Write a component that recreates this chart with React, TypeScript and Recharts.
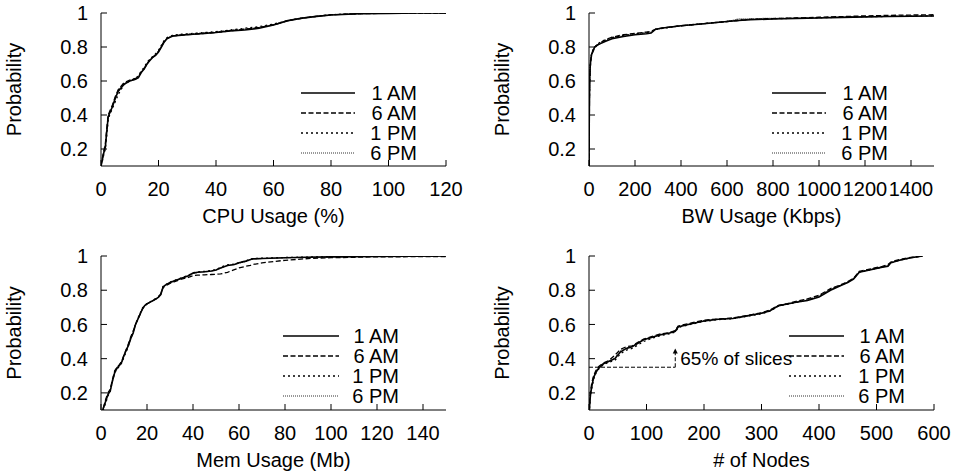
import { LineChart, Line, XAxis, YAxis, Legend, ReferenceLine } from 'recharts';

const FONT = '"Liberation Sans", Arial, Helvetica, sans-serif';
const FS = 20;

const SERIES_NAMES = ['1 AM', '6 AM', '1 PM', '6 PM'];
const Y_TICKS = [0.2, 0.4, 0.6, 0.8, 1];

// CPU usage (%)
const cpuX = [0, 0.5, 1, 1.5, 2, 2.5, 3, 4, 5, 6, 7, 8, 10, 12, 13, 14, 15, 16, 17, 18, 19, 20, 21, 22, 23, 25, 28, 32, 36, 40, 45, 50, 55, 60, 65, 70, 75, 80, 90, 100, 110, 120];
const cpu1am = [0.10, 0.14, 0.18, 0.21, 0.30, 0.39, 0.41, 0.45, 0.50, 0.54, 0.56, 0.58, 0.60, 0.61, 0.62, 0.65, 0.67, 0.70, 0.72, 0.74, 0.75, 0.77, 0.80, 0.83, 0.85, 0.865, 0.87, 0.875, 0.88, 0.885, 0.895, 0.90, 0.91, 0.93, 0.955, 0.97, 0.98, 0.988, 0.996, 0.998, 1, 1];
const cpu6am = [0.10, 0.15, 0.19, 0.23, 0.32, 0.40, 0.42, 0.46, 0.51, 0.55, 0.57, 0.59, 0.605, 0.615, 0.625, 0.655, 0.675, 0.70, 0.725, 0.74, 0.755, 0.775, 0.805, 0.835, 0.85, 0.865, 0.87, 0.875, 0.88, 0.885, 0.895, 0.905, 0.915, 0.93, 0.955, 0.97, 0.98, 0.99, 0.996, 0.998, 1, 1];
const cpu1pm = [0.10, 0.13, 0.17, 0.20, 0.28, 0.37, 0.40, 0.44, 0.48, 0.52, 0.55, 0.58, 0.60, 0.615, 0.63, 0.66, 0.68, 0.71, 0.73, 0.745, 0.76, 0.78, 0.81, 0.84, 0.855, 0.87, 0.875, 0.88, 0.885, 0.89, 0.90, 0.91, 0.92, 0.935, 0.955, 0.97, 0.98, 0.99, 0.997, 0.999, 1, 1];
const cpu6pm = [0.10, 0.14, 0.18, 0.22, 0.31, 0.39, 0.41, 0.45, 0.50, 0.54, 0.565, 0.585, 0.60, 0.61, 0.62, 0.65, 0.67, 0.70, 0.72, 0.74, 0.755, 0.775, 0.80, 0.83, 0.85, 0.865, 0.872, 0.878, 0.883, 0.888, 0.898, 0.905, 0.915, 0.932, 0.955, 0.97, 0.982, 0.99, 0.996, 0.999, 1, 1];

// BW usage (Kbps)
const bwX = [0, 1, 2, 3, 5, 8, 12, 18, 25, 35, 50, 75, 100, 150, 200, 250, 270, 290, 320, 400, 500, 600, 650, 700, 800, 900, 1000, 1100, 1200, 1300, 1400, 1500];
const bw1am = [0.10, 0.35, 0.50, 0.60, 0.68, 0.73, 0.76, 0.78, 0.80, 0.81, 0.82, 0.835, 0.848, 0.862, 0.872, 0.878, 0.882, 0.905, 0.912, 0.925, 0.937, 0.95, 0.956, 0.96, 0.965, 0.968, 0.971, 0.974, 0.977, 0.979, 0.981, 0.982];
const bw6am = [0.10, 0.33, 0.48, 0.59, 0.67, 0.72, 0.755, 0.775, 0.795, 0.81, 0.825, 0.845, 0.858, 0.872, 0.88, 0.888, 0.892, 0.905, 0.912, 0.925, 0.938, 0.95, 0.956, 0.962, 0.967, 0.971, 0.975, 0.979, 0.983, 0.986, 0.988, 0.99];
const bw1pm = [0.10, 0.36, 0.52, 0.62, 0.69, 0.74, 0.765, 0.785, 0.80, 0.815, 0.83, 0.845, 0.855, 0.868, 0.878, 0.885, 0.89, 0.903, 0.91, 0.925, 0.938, 0.95, 0.958, 0.962, 0.966, 0.969, 0.972, 0.975, 0.978, 0.98, 0.982, 0.984];
const bw6pm = [0.10, 0.34, 0.50, 0.61, 0.68, 0.73, 0.76, 0.78, 0.80, 0.812, 0.825, 0.84, 0.852, 0.866, 0.876, 0.883, 0.887, 0.904, 0.911, 0.924, 0.937, 0.95, 0.965, 0.967, 0.969, 0.971, 0.973, 0.976, 0.978, 0.98, 0.982, 0.984];

// Mem usage (Mb)
const memX = [0, 1, 2, 3, 4, 5, 6, 7, 8, 9, 10, 11, 12, 13, 14, 15, 16, 17, 18, 19, 20, 22, 24, 25, 26, 27, 28, 30, 32, 35, 38, 40, 42, 45, 48, 50, 52, 55, 58, 60, 63, 65, 66, 70, 80, 90, 100, 120, 150];
const mem1am = [0.07, 0.11, 0.15, 0.19, 0.21, 0.27, 0.32, 0.345, 0.36, 0.38, 0.42, 0.45, 0.48, 0.52, 0.55, 0.60, 0.63, 0.66, 0.69, 0.71, 0.72, 0.735, 0.75, 0.76, 0.775, 0.82, 0.83, 0.845, 0.855, 0.87, 0.885, 0.90, 0.905, 0.908, 0.912, 0.918, 0.93, 0.945, 0.95, 0.96, 0.97, 0.98, 0.983, 0.985, 0.99, 0.993, 0.995, 0.998, 1.0];
const mem6am = [0.07, 0.11, 0.16, 0.20, 0.22, 0.28, 0.33, 0.35, 0.365, 0.385, 0.42, 0.455, 0.49, 0.53, 0.56, 0.60, 0.63, 0.66, 0.69, 0.71, 0.72, 0.735, 0.75, 0.76, 0.78, 0.815, 0.825, 0.84, 0.85, 0.865, 0.875, 0.885, 0.888, 0.89, 0.892, 0.893, 0.895, 0.905, 0.92, 0.93, 0.94, 0.945, 0.95, 0.96, 0.975, 0.985, 0.99, 0.995, 0.997];
const mem1pm = [0.07, 0.10, 0.14, 0.18, 0.21, 0.27, 0.32, 0.34, 0.355, 0.375, 0.41, 0.44, 0.48, 0.52, 0.56, 0.60, 0.635, 0.665, 0.695, 0.712, 0.722, 0.737, 0.752, 0.762, 0.78, 0.822, 0.832, 0.848, 0.858, 0.872, 0.888, 0.902, 0.907, 0.91, 0.915, 0.92, 0.935, 0.948, 0.952, 0.962, 0.972, 0.982, 0.985, 0.987, 0.991, 0.994, 0.996, 0.999, 1.0];
const mem6pm = [0.07, 0.11, 0.15, 0.19, 0.215, 0.275, 0.325, 0.35, 0.365, 0.38, 0.415, 0.45, 0.485, 0.525, 0.555, 0.60, 0.63, 0.66, 0.69, 0.71, 0.72, 0.735, 0.75, 0.76, 0.775, 0.818, 0.83, 0.845, 0.855, 0.87, 0.884, 0.898, 0.904, 0.907, 0.911, 0.917, 0.93, 0.944, 0.95, 0.958, 0.968, 0.979, 0.982, 0.985, 0.99, 0.993, 0.995, 0.998, 1.0];

// # of nodes
const nodesX = [0, 1, 2, 3, 5, 8, 12, 17, 25, 35, 45, 55, 65, 75, 85, 95, 110, 125, 140, 150, 155, 160, 180, 200, 225, 250, 275, 300, 315, 330, 345, 360, 380, 400, 420, 440, 450, 460, 465, 470, 490, 510, 520, 525, 540, 560, 580];
const nodes1am = [0.05, 0.12, 0.17, 0.20, 0.24, 0.29, 0.32, 0.345, 0.37, 0.385, 0.40, 0.44, 0.46, 0.47, 0.49, 0.51, 0.525, 0.54, 0.55, 0.56, 0.585, 0.59, 0.605, 0.62, 0.63, 0.635, 0.65, 0.665, 0.68, 0.71, 0.72, 0.73, 0.74, 0.76, 0.80, 0.83, 0.845, 0.865, 0.885, 0.905, 0.92, 0.935, 0.94, 0.96, 0.975, 0.99, 1.0];
const nodes6am = [0.05, 0.14, 0.19, 0.22, 0.26, 0.30, 0.33, 0.355, 0.375, 0.39, 0.42, 0.455, 0.47, 0.475, 0.495, 0.515, 0.53, 0.545, 0.552, 0.565, 0.59, 0.595, 0.61, 0.625, 0.632, 0.638, 0.652, 0.668, 0.685, 0.712, 0.722, 0.735, 0.75, 0.77, 0.81, 0.835, 0.85, 0.87, 0.89, 0.91, 0.925, 0.94, 0.95, 0.965, 0.98, 0.992, 1.0];
const nodes1pm = [0.05, 0.11, 0.16, 0.19, 0.23, 0.28, 0.315, 0.34, 0.365, 0.38, 0.39, 0.43, 0.45, 0.46, 0.48, 0.50, 0.52, 0.535, 0.545, 0.555, 0.58, 0.587, 0.603, 0.618, 0.628, 0.634, 0.648, 0.662, 0.678, 0.708, 0.718, 0.728, 0.742, 0.765, 0.805, 0.832, 0.848, 0.868, 0.888, 0.905, 0.92, 0.935, 0.945, 0.96, 0.975, 0.99, 1.0];
const nodes6pm = [0.05, 0.13, 0.18, 0.21, 0.25, 0.29, 0.32, 0.35, 0.37, 0.385, 0.405, 0.445, 0.462, 0.472, 0.492, 0.512, 0.527, 0.542, 0.55, 0.562, 0.587, 0.592, 0.607, 0.622, 0.631, 0.636, 0.65, 0.666, 0.682, 0.71, 0.72, 0.732, 0.745, 0.765, 0.805, 0.832, 0.847, 0.867, 0.887, 0.907, 0.922, 0.937, 0.945, 0.962, 0.977, 0.99, 1.0];

// annotation on the nodes plot
const SLICE_X = 150;
const SLICE_Y = 0.35;
const SLICE_ARROW_TOP = 0.46;
const SLICE_TEXT = '65% of slices';

const LINE_STYLES = [
  { stroke: '#000', width: 1.6, dash: undefined },
  { stroke: '#000', width: 1.3, dash: '5 2.5' },
  { stroke: '#000', width: 1.3, dash: '2 3' },
  { stroke: '#333', width: 1.1, dash: '1 1' },
];

const toRows = (xs: number[], ys: number[][]) =>
  xs.map((x, i) => ({ x, s0: ys[0][i], s1: ys[1][i], s2: ys[2][i], s3: ys[3][i] }));

const tickStyle = { fill: '#000', fontSize: FS, fontFamily: FONT };

function LegendBox({ lineEnd }: { lineEnd: number }) {
  return (
    <svg width={120} height={84} style={{ display: 'block' }}>
      {SERIES_NAMES.map((name, i) => {
        const st = LINE_STYLES[i];
        const y = 10 + i * 20;
        return (
          <g key={name}>
            <line x1={1} x2={lineEnd} y1={y} y2={y} stroke={st.stroke} strokeWidth={st.width} strokeDasharray={st.dash} />
            <text x={117} y={y} dy="0.36em" textAnchor="end" fontSize={FS} fontFamily={FONT} fill="#000">
              {name}
            </text>
          </g>
        );
      })}
    </svg>
  );
}

function SliceArrow(props: any) {
  const { x1, y1, x2, y2 } = props;
  return (
    <g>
      <line x1={x1} y1={y1} x2={x2} y2={y2 + 3} stroke="#000" strokeWidth={1} strokeDasharray="4 2" />
      <path d={`M${x2 - 2.5},${y2 + 5} L${x2},${y2} L${x2 + 2.5},${y2 + 5} Z`} fill="#000" />
      <text x={x1 + 5} y={(y1 + y2) / 2} dy="0.36em" fontSize={FS - 1} fontFamily={FONT} fill="#000">
        {SLICE_TEXT}
      </text>
    </g>
  );
}

interface PanelProps {
  left: number;
  top: number;
  margin: { top: number; right: number; bottom: number; left: number };
  xMax: number;
  xTicks: number[];
  xTitle: string;
  rows: any[];
  legendPos: { left: number; top: number; lineEnd: number };
  children?: any;
}

function Panel({ left, top, margin, xMax, xTicks, xTitle, rows, legendPos, children }: PanelProps) {
  return (
    <div style={{ position: 'absolute', left, top }}>
      <LineChart width={480} height={237} data={rows} margin={margin}>
        <XAxis
          xAxisId="b"
          type="number"
          dataKey="x"
          domain={[0, xMax]}
          ticks={xTicks}
          interval={0}
          allowDataOverflow
          height={60}
          stroke="#000"
          tickSize={-6}
          tickMargin={22}
          tick={tickStyle}
          label={{ value: xTitle, position: 'insideBottom', offset: 3, fill: '#000', fontSize: FS, fontFamily: FONT }}
        />
        <XAxis
          xAxisId="t"
          orientation="top"
          type="number"
          dataKey="x"
          domain={[0, xMax]}
          ticks={xTicks}
          interval={0}
          allowDataOverflow
          height={0}
          stroke="#000"
          tickSize={-6}
          tick={false}
        />
        <YAxis
          yAxisId="l"
          type="number"
          domain={[0.1, 1]}
          ticks={Y_TICKS}
          interval={0}
          allowDataOverflow
          width={85}
          stroke="#000"
          tickSize={-6}
          tickMargin={19}
          tick={tickStyle}
          label={{
            value: 'Probability',
            angle: -90,
            position: 'insideLeft',
            offset: -2,
            fill: '#000',
            fontSize: FS,
            fontFamily: FONT,
            style: { textAnchor: 'middle' },
          }}
        />
        <YAxis
          yAxisId="r"
          orientation="right"
          type="number"
          domain={[0.1, 1]}
          ticks={Y_TICKS}
          interval={0}
          allowDataOverflow
          width={0}
          stroke="#000"
          tickSize={-6}
          tick={false}
        />
        {[3, 2, 1, 0].map((i) => (
          <Line
            key={i}
            xAxisId="b"
            yAxisId="l"
            type="linear"
            dataKey={`s${i}`}
            name={SERIES_NAMES[i]}
            stroke={LINE_STYLES[i].stroke}
            strokeWidth={LINE_STYLES[i].width}
            strokeDasharray={LINE_STYLES[i].dash}
            dot={false}
            activeDot={false}
            isAnimationActive={false}
          />
        ))}
        <Legend
          layout="vertical"
          align="center"
          verticalAlign="middle"
          wrapperStyle={{ left: legendPos.left, top: legendPos.top, width: 120, height: 84 }}
          content={() => <LegendBox lineEnd={legendPos.lineEnd} />}
        />
        {children}
      </LineChart>
    </div>
  );
}

export default function App() {
  return (
    <div style={{ position: 'absolute', left: 0, top: 0, width: 959, height: 474, background: '#fff' }}>
      <Panel
        left={0}
        top={0}
        margin={{ top: 13, right: 34, bottom: 11, left: 16 }}
        xMax={120}
        xTicks={[0, 20, 40, 60, 80, 100, 120]}
        xTitle="CPU Usage (%)"
        rows={toRows(cpuX, [cpu1am, cpu6am, cpu1pm, cpu6pm])}
        legendPos={{ left: 300, top: 83, lineEnd: 55 }}
      />
      <Panel
        left={479}
        top={0}
        margin={{ top: 13, right: 25, bottom: 11, left: 25 }}
        xMax={1500}
        xTicks={[0, 200, 400, 600, 800, 1000, 1200, 1400]}
        xTitle="BW Usage (Kbps)"
        rows={toRows(bwX, [bw1am, bw6am, bw1pm, bw6pm])}
        legendPos={{ left: 292, top: 83, lineEnd: 55 }}
      />
      <Panel
        left={0}
        top={237}
        margin={{ top: 19, right: 34, bottom: 4, left: 16 }}
        xMax={150}
        xTicks={[0, 20, 40, 60, 80, 100, 120, 140]}
        xTitle="Mem Usage (Mb)"
        rows={toRows(memX, [mem1am, mem6am, mem1pm, mem6pm])}
        legendPos={{ left: 282, top: 89, lineEnd: 57 }}
      />
      <Panel
        left={479}
        top={237}
        margin={{ top: 19, right: 25, bottom: 4, left: 25 }}
        xMax={600}
        xTicks={[0, 100, 200, 300, 400, 500, 600]}
        xTitle="# of Nodes"
        rows={toRows(nodesX, [nodes1am, nodes6am, nodes1pm, nodes6pm])}
        legendPos={{ left: 309, top: 89, lineEnd: 56 }}
      >
        <ReferenceLine
          xAxisId="b"
          yAxisId="l"
          segment={[{ x: 0, y: SLICE_Y }, { x: SLICE_X, y: SLICE_Y }]}
          stroke="#000"
          strokeWidth={1}
          strokeDasharray="4 2"
        />
        <ReferenceLine
          xAxisId="b"
          yAxisId="l"
          segment={[{ x: SLICE_X, y: SLICE_Y }, { x: SLICE_X, y: SLICE_ARROW_TOP }]}
          shape={SliceArrow}
        />
      </Panel>
    </div>
  );
}
